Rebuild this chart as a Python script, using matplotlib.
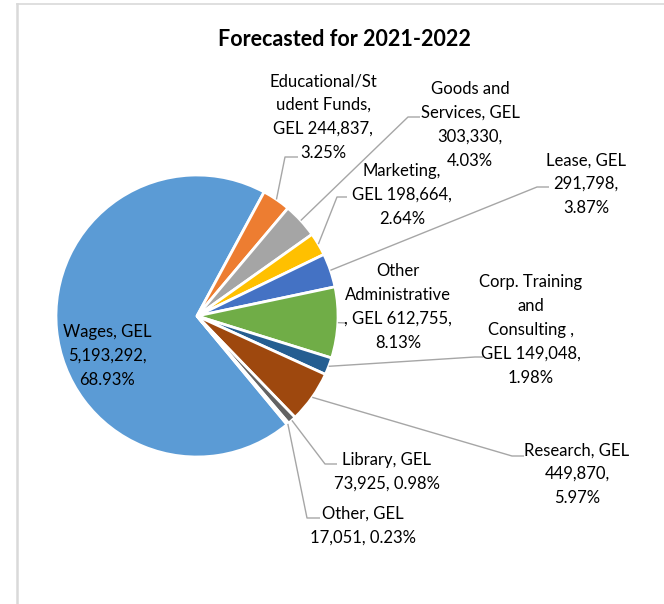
import numpy as np
import matplotlib
matplotlib.use("Agg")
import matplotlib.pyplot as plt
from matplotlib.lines import Line2D

plt.rcParams['font.family'] = ['Lato', 'DejaVu Sans']

# data, in the order the slices go round (clockwise)
names = ["Wages", "Educational/Student Funds", "Goods and Services", "Marketing",
         "Lease", "Other Administrative", "Corp. Training and Consulting",
         "Research", "Library", "Other"]
values = [5193292, 244837, 303330, 198664, 291798, 612755, 149048, 449870, 73925, 17051]
label_texts = [
    "Wages, GEL\n5,193,292,\n68.93%",
    "Educational/St\nudent Funds,\nGEL 244,837,\n3.25%",
    "Goods and\nServices, GEL\n303,330,\n4.03%",
    "Marketing,\nGEL 198,664,\n2.64%",
    "Lease, GEL\n291,798,\n3.87%",
    "Other\nAdministrative\n, GEL 612,755,\n8.13%",
    "Corp. Training\nand\nConsulting ,\nGEL 149,048,\n1.98%",
    "Research, GEL\n449,870,\n5.97%",
    "Library, GEL\n73,925, 0.98%",
    "Other, GEL\n17,051, 0.23%",
]
colors = ["#5B9BD5", "#ED7D31", "#A5A5A5", "#FFC000", "#4472C4",
          "#70AD47", "#255E91", "#9E480E", "#636363", "#997300"]

W, H = 664, 604
fig = plt.figure(figsize=(W / 100, H / 100), dpi=100)
ax = fig.add_axes([0, 0, 1, 1])

def px(x, y):
    # pixel position (y down) -> axes data (y up)
    return x, H - y

cx, cy = px(197, 316)
R = 141
wedges, _ = ax.pie(values, colors=colors, startangle=-50.3, counterclock=False,
                   center=(cx, cy), radius=R, explode=[0.033] * len(values),
                   wedgeprops=dict(edgecolor="white", linewidth=2.0))
ax.set_xlim(0, W)
ax.set_ylim(0, H)
ax.set_aspect("equal")
ax.axis("off")

# label centre, elbow and end of leader (pixels); None = no leader
layout = [
    ((107, 356), None, None),
    ((323, 117), (285, 157), (298, 157)),
    ((470, 125), (408, 117), (420, 117)),
    ((402, 195), (337, 197), (347, 197)),
    ((586, 184), (537, 187), (549, 187)),
    ((398, 307), None, (347, 323)),
    ((531, 330), (475, 357), (483, 357)),
    ((577, 474), (512, 456), (524, 456)),
    ((387, 472), (325, 464), (337, 464)),
    ((363, 526), (307, 518), (320, 518)),
]

for w, txt, (pos, elbow, end) in zip(wedges, label_texts, layout):
    ax.text(*px(*pos), txt, ha="center", va="center", fontsize=12,
            linespacing=1.6, color="#000000")
    if end is None:
        continue
    mid = np.deg2rad((w.theta1 + w.theta2) / 2)
    ax_, ay_ = w.center[0] + w.r * np.cos(mid), w.center[1] + w.r * np.sin(mid)
    pts = [(ax_, ay_)]
    if elbow is not None:
        pts.append(px(*elbow))
    pts.append(px(*end))
    xs, ys = zip(*pts)
    ax.plot(xs, ys, color="#A6A6A6", lw=1.0, solid_capstyle="butt")

fig.text(344 / W, 1 - 40 / H, "Forecasted for 2021-2022", ha="center", va="center",
         fontsize=15.5, fontweight="bold")

# remains of the chart frame
fig.add_artist(Line2D([17 / W, 17 / W], [0, 1 - 4 / H], color="#D9D9D9", lw=1.8))
fig.add_artist(Line2D([17 / W, 1], [1 - 4 / H, 1 - 4 / H], color="#D9D9D9", lw=1.2))

fig.savefig("out.png", dpi=100, facecolor="white")
